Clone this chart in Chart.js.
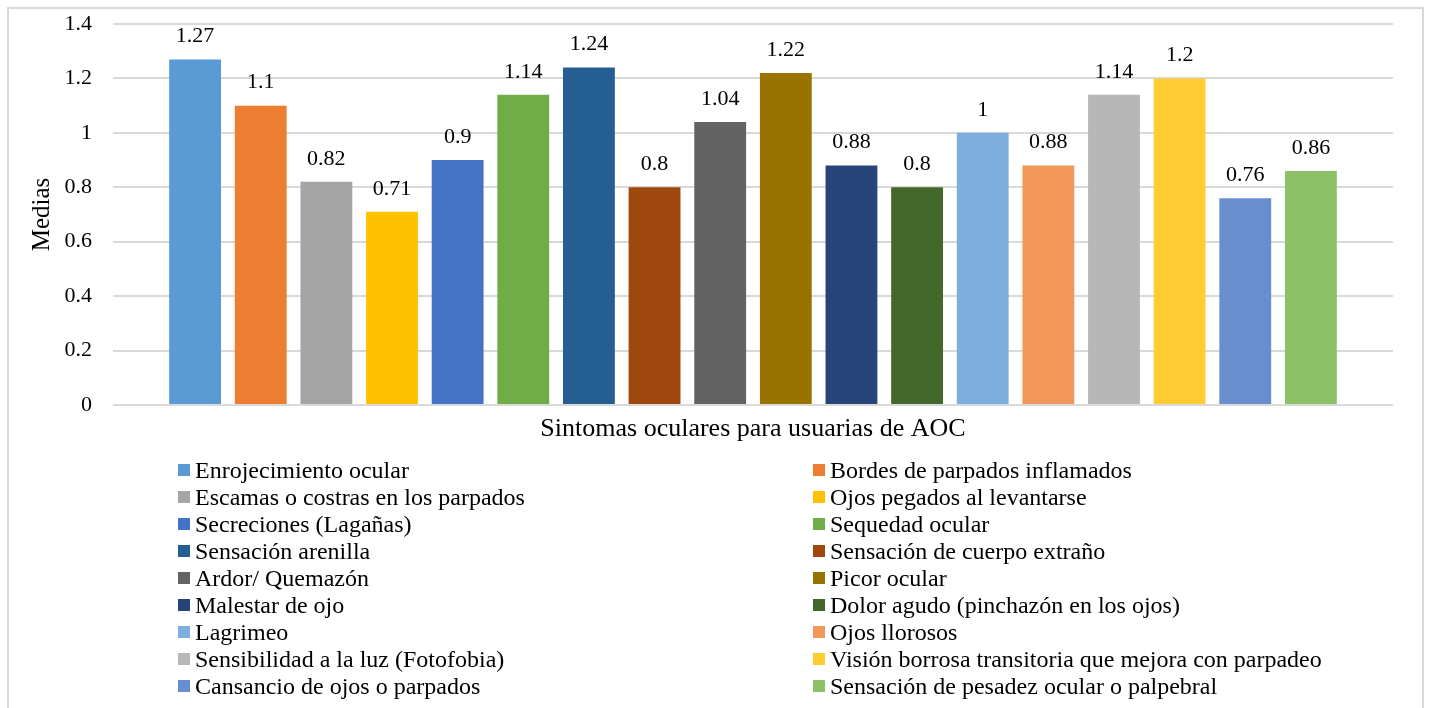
<!DOCTYPE html>
<html>
<head>
<meta charset="utf-8">
<script src="https://cdn.jsdelivr.net/npm/chart.js@4/dist/chart.umd.min.js"></script>
<style>
  html, body { margin: 0; padding: 0; background: #fff; }
  #wrap { position: relative; width: 1433px; height: 708px; overflow: hidden; }
  #frame { position: absolute; left: 7px; top: 7px; width: 1417px; height: 720px;
           border: 2px solid #d9d9d9; box-sizing: border-box; pointer-events: none; }
  #chart { position: absolute; left: 0; top: 0; }
  #legend { position: absolute; left: 178px; top: 457px; display: grid;
            grid-template-columns: 635px 600px; grid-auto-rows: 26.9px;
            font-family: "Liberation Serif", "Times New Roman", serif; font-size: 24px;
            line-height: 26px; color: #000; }
  #legend .item { display: flex; align-items: center; white-space: nowrap; }
  #legend .sw { width: 12px; height: 12px; margin-right: 5px; flex: none; }
</style>
</head>
<body>
<div id="wrap">
  <canvas id="chart" width="1433" height="708"></canvas>
  <div id="legend"></div>
  <div id="frame"></div>
</div>
<script>
// Category on the x axis
const categories = ['Sintomas oculares para usuarias de AOC'];

// One series per ocular symptom
const symptoms = [
  'Enrojecimiento ocular',
  'Bordes de parpados inflamados',
  'Escamas o costras en los parpados',
  'Ojos pegados al levantarse',
  'Secreciones (Lagañas)',
  'Sequedad ocular',
  'Sensación arenilla',
  'Sensación de cuerpo extraño',
  'Ardor/ Quemazón',
  'Picor ocular',
  'Malestar de ojo',
  'Dolor agudo (pinchazón en los ojos)',
  'Lagrimeo',
  'Ojos llorosos',
  'Sensibilidad a la luz (Fotofobia)',
  'Visión borrosa transitoria que mejora con parpadeo',
  'Cansancio de ojos o parpados',
  'Sensación de pesadez ocular o palpebral'
];

// Mean score of each symptom
const means = [1.27, 1.1, 0.82, 0.71, 0.9, 1.14, 1.24, 0.8, 1.04, 1.22, 0.88, 0.8, 1, 0.88, 1.14, 1.2, 0.76, 0.86];

const colors = [
  '#5B9BD5', '#ED7D31', '#A5A5A5', '#FFC000', '#4472C4', '#70AD47',
  '#255E91', '#9E480E', '#636363', '#997300', '#264478', '#43682B',
  '#7CAFDD', '#F1975A', '#B7B7B7', '#FFCD33', '#698ED0', '#8CC168'
];

// Y axis tick values
const yTicks = [0, 0.2, 0.4, 0.6, 0.8, 1, 1.2, 1.4];

const FONT = '"Liberation Serif", "Times New Roman", serif';

// Writes each bar's value above it
const valueLabels = {
  id: 'valueLabels',
  afterDatasetsDraw(chart) {
    const ctx = chart.ctx;
    ctx.save();
    ctx.font = '22px ' + FONT;
    ctx.fillStyle = '#000';
    ctx.textAlign = 'center';
    ctx.textBaseline = 'bottom';
    chart.data.datasets.forEach((ds, i) => {
      const meta = chart.getDatasetMeta(i);
      meta.data.forEach((bar, j) => {
        ctx.fillText(String(ds.data[j]), bar.x, bar.y - 12);
      });
    });
    ctx.restore();
  }
};

const chart = new Chart(document.getElementById('chart'), {
  type: 'bar',
  data: {
    labels: categories,
    datasets: symptoms.map((name, i) => ({
      label: name,
      data: [means[i]],
      backgroundColor: colors[i],
      borderWidth: 0,
      barPercentage: 0.79,
      categoryPercentage: 0.923
    }))
  },
  options: {
    responsive: false,
    animation: false,
    devicePixelRatio: 1,
    layout: { padding: { top: 24, right: 40, left: 0, bottom: 0 } },
    plugins: {
      legend: { display: false },
      tooltip: { enabled: false }
    },
    scales: {
      x: {
        grid: { display: false, drawTicks: false },
        border: { display: false },
        ticks: { font: { family: FONT, size: 26 }, color: '#000', padding: 9 },
        afterFit(s) { s.height = 303; }
      },
      y: {
        min: 0,
        max: 1.4,
        afterBuildTicks(s) { s.ticks = yTicks.map(v => ({ value: v })); },
        grid: { color: '#d9d9d9', lineWidth: 2, drawTicks: false },
        border: { display: false },
        ticks: { font: { family: FONT, size: 22 }, color: '#000', padding: 21,
                 callback: v => String(v) },
        title: { display: true, text: 'Medias', font: { family: FONT, size: 25 },
                 color: '#000', padding: { top: 27, bottom: 0 } },
        afterFit(s) { s.width = 113; s.paddingTop = 0; s.paddingBottom = 0; }
      }
    }
  },
  plugins: [valueLabels]
});

// Two-column legend built from the chart's own legend items
const legendEl = document.getElementById('legend');
chart.options.plugins.legend.labels.generateLabels(chart).forEach(item => {
  const div = document.createElement('div');
  div.className = 'item';
  const sw = document.createElement('span');
  sw.className = 'sw';
  sw.style.background = item.fillStyle;
  const txt = document.createElement('span');
  txt.textContent = item.text;
  div.appendChild(sw);
  div.appendChild(txt);
  legendEl.appendChild(div);
});
</script>
</body>
</html>
